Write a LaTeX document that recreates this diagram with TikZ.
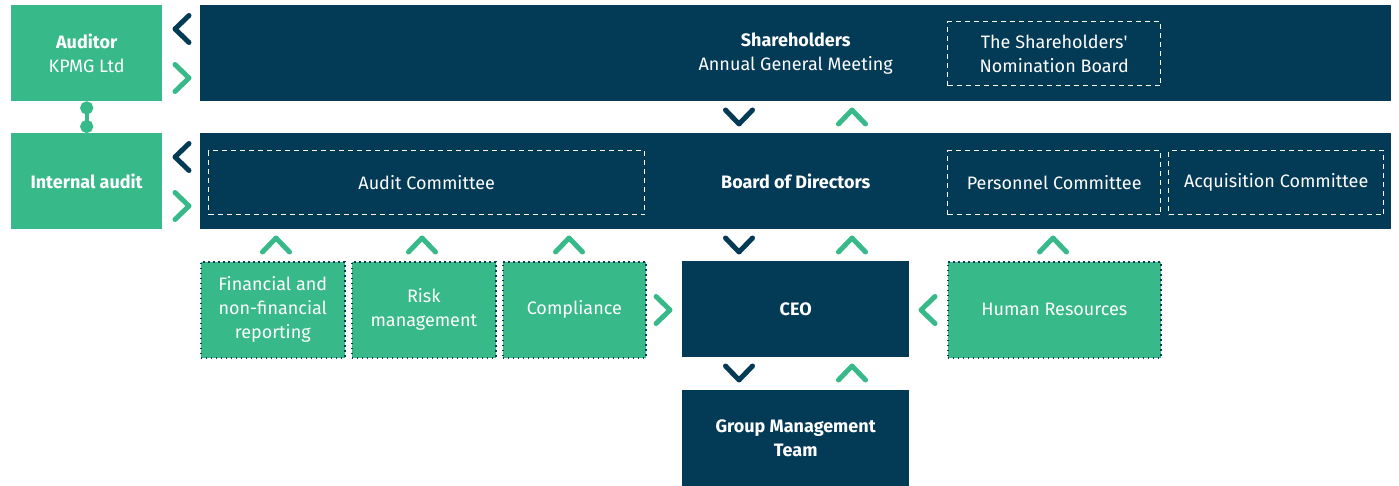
\documentclass[tikz,border=0pt]{standalone}
\usepackage{fontspec}
\setmainfont{Fira Sans}
\usetikzlibrary{arrows.meta}
\definecolor{navy}{HTML}{033A56}
\definecolor{mint}{HTML}{38B98A}
\tikzset{box/.style={
    anchor=north west,
    inner sep=0pt,
    align=center,
    text=white,
    minimum height=#1,
    font=\fontsize{18}{24}\selectfont
  },
  box/.default=96pt,
  navy box/.style={box, fill=navy},
  green box/.style={box, fill=mint},
  dotted box/.style={green box, draw=navy, line width=1.6pt, dash pattern=on 1.6pt off 3.4pt},
  dashed box/.style={box=64pt, draw=white, line width=1.3pt, dash pattern=on 5pt off 4pt},
  chev/.pic={\draw[line width=5pt, line cap=round, line join=round] (-7,-13.5) -- (7,0) -- (-7,13.5);}
}

\begin{document}
\begin{tikzpicture}[x=1pt, y=-1pt]
        \useasboundingbox (0,0) rectangle (1399,486);
        % top rows
        \node[green box, minimum width=151pt] (auditor) at (11,5) {\textbf{Auditor}\\KPMG Ltd};
        \node[navy box, minimum width=1191pt] (shareholders) at (200,5) {\textbf{Shareholders}\\Annual General Meeting};
        \node[dashed box, minimum width=213pt] (nomboard) at (947,21) {The Shareholders\textquotesingle\\Nomination Board};
        \node[green box, minimum width=151pt] (intaudit) at (11,133) {\textbf{Internal audit}};
        \node[navy box, minimum width=1191pt] (board) at (200,133) {\textbf{Board of Directors}};
        \node[dashed box, minimum width=436pt] (auditcom) at (208,150) {Audit Committee};
        \node[dashed box, minimum width=213pt] (perscom) at (947,150) {Personnel Committee};
        \node[dashed box, minimum width=215pt] (acqcom) at (1168,150) {Acquisition Committee};
        % functions and management
        \node[dotted box, minimum width=144pt] (finrep) at (200,261) {Financial and\\non-financial\\reporting};
        \node[dotted box, minimum width=144pt] (risk) at (351,261) {Risk\\management};
        \node[dotted box, minimum width=143pt] (compliance) at (502,261) {Compliance};
        \node[navy box, minimum width=227pt] (ceo) at (682,261) {\textbf{CEO}};
        \node[dotted box, minimum width=213pt] (hr) at (947,261) {Human Resources};
        \node[navy box, minimum width=227pt] (gmt) at (682,390) {\textbf{Group Management}\\\textbf{Team}};

        \draw[mint, line width=4pt, {Circle[length=13pt]}-{Circle[length=13pt]}] (auditor) -- (intaudit);

        % chevrons
        \foreach \y in {29,157} \pic[navy, rotate=180] at (182,\y) {chev};
        \foreach \y in {78,206} \pic[mint] at (182,\y) {chev};
        \foreach \y in {117,245,373} {
          \pic[navy, rotate=-90] at (739,\y) {chev};
          \pic[mint, rotate=90] at (852,\y) {chev};
        }
        \foreach \x in {276,422,569,1053} \pic[mint, rotate=90] at (\x,245) {chev};
        \pic[mint] at (663,310) {chev};
        \pic[mint, rotate=180] at (928,310) {chev};
    \end{tikzpicture}
\end{document}
